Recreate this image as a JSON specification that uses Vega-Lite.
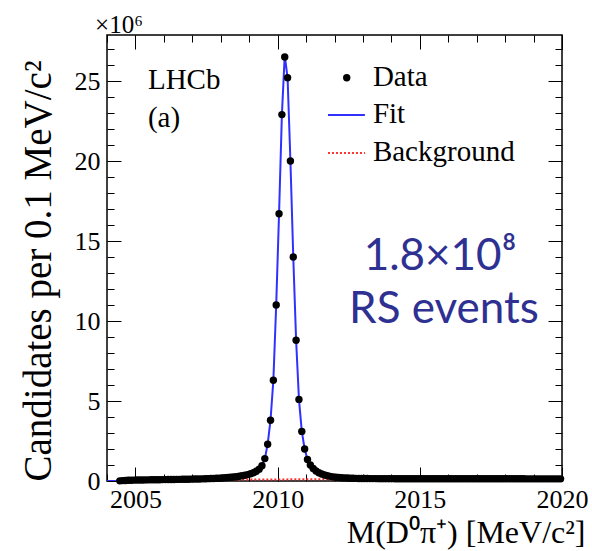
{
  "$schema": "https://vega.github.io/schema/vega-lite/v6.json",
  "width": 455,
  "height": 446,
  "autosize": {"type": "none"},
  "padding": {"left": 107, "top": 35, "right": 30, "bottom": 70},
  "background": "white",
  "config": {
    "view": {"stroke": "black", "strokeWidth": 1.5},
    "font": "Liberation Serif",
    "axis": {"grid": false, "domain": false, "tickColor": "black", "tickWidth": 1, "labelColor": "black", "titleColor": "black", "labelFont": "Liberation Serif", "titleFont": "Liberation Serif", "titleFontWeight": "normal"}
  },
  "datasets": {
    "hist": [
      {"m": 2004.0, "f": 0},
      {"m": 2004.35, "f": 0},
      {"m": 2004.45, "n": 0.01, "f": 0.01},
      {"m": 2004.55, "n": 0.025, "f": 0.025},
      {"m": 2004.65, "n": 0.035, "f": 0.035},
      {"m": 2004.75, "n": 0.045, "f": 0.045},
      {"m": 2004.85, "n": 0.05, "f": 0.05},
      {"m": 2004.95, "n": 0.055, "f": 0.055},
      {"m": 2005.05, "n": 0.06, "f": 0.06},
      {"m": 2005.15, "n": 0.063, "f": 0.063},
      {"m": 2005.25, "n": 0.066, "f": 0.066},
      {"m": 2005.35, "n": 0.069, "f": 0.069},
      {"m": 2005.45, "n": 0.072, "f": 0.072},
      {"m": 2005.55, "n": 0.075, "f": 0.075},
      {"m": 2005.65, "n": 0.078, "f": 0.078},
      {"m": 2005.75, "n": 0.08, "f": 0.08},
      {"m": 2005.85, "n": 0.083, "f": 0.083},
      {"m": 2005.95, "n": 0.086, "f": 0.086},
      {"m": 2006.05, "n": 0.088, "f": 0.088},
      {"m": 2006.15, "n": 0.091, "f": 0.091},
      {"m": 2006.25, "n": 0.094, "f": 0.094},
      {"m": 2006.35, "n": 0.097, "f": 0.097},
      {"m": 2006.45, "n": 0.1, "f": 0.1},
      {"m": 2006.55, "n": 0.103, "f": 0.103},
      {"m": 2006.65, "n": 0.106, "f": 0.106},
      {"m": 2006.75, "n": 0.11, "f": 0.11},
      {"m": 2006.85, "n": 0.113, "f": 0.113},
      {"m": 2006.95, "n": 0.117, "f": 0.117},
      {"m": 2007.05, "n": 0.121, "f": 0.121},
      {"m": 2007.15, "n": 0.125, "f": 0.125},
      {"m": 2007.25, "n": 0.13, "f": 0.13},
      {"m": 2007.35, "n": 0.135, "f": 0.135},
      {"m": 2007.45, "n": 0.14, "f": 0.14},
      {"m": 2007.55, "n": 0.146, "f": 0.146},
      {"m": 2007.65, "n": 0.152, "f": 0.152},
      {"m": 2007.75, "n": 0.16, "f": 0.16},
      {"m": 2007.85, "n": 0.168, "f": 0.168},
      {"m": 2007.95, "n": 0.177, "f": 0.177},
      {"m": 2008.05, "n": 0.187, "f": 0.187},
      {"m": 2008.15, "n": 0.2, "f": 0.2},
      {"m": 2008.25, "n": 0.215, "f": 0.215},
      {"m": 2008.35, "n": 0.232, "f": 0.232},
      {"m": 2008.45, "n": 0.25, "f": 0.25},
      {"m": 2008.55, "n": 0.27, "f": 0.27},
      {"m": 2008.65, "n": 0.295, "f": 0.295},
      {"m": 2008.75, "n": 0.325, "f": 0.325},
      {"m": 2008.85, "n": 0.36, "f": 0.36},
      {"m": 2008.95, "n": 0.4, "f": 0.4},
      {"m": 2009.05, "n": 0.45, "f": 0.45},
      {"m": 2009.15, "n": 0.52, "f": 0.52},
      {"m": 2009.25, "n": 0.61, "f": 0.61},
      {"m": 2009.35, "n": 0.74, "f": 0.74},
      {"m": 2009.45, "n": 0.95, "f": 0.95},
      {"m": 2009.55, "n": 1.4, "f": 1.4},
      {"m": 2009.65, "n": 2.3, "f": 2.3},
      {"m": 2009.75, "n": 3.8, "f": 3.8},
      {"m": 2009.85, "n": 6.3, "f": 6.3},
      {"m": 2009.95, "n": 11.0, "f": 11.0},
      {"m": 2010.05, "n": 16.7, "f": 16.7},
      {"m": 2010.15, "n": 22.9, "f": 22.9},
      {"m": 2010.25, "n": 26.5, "f": 26.6},
      {"m": 2010.35, "n": 25.2, "f": 25.2},
      {"m": 2010.45, "n": 20.0, "f": 20.0},
      {"m": 2010.55, "n": 14.0, "f": 14.0},
      {"m": 2010.65, "n": 8.8, "f": 8.8},
      {"m": 2010.75, "n": 5.1, "f": 5.1},
      {"m": 2010.85, "n": 3.1, "f": 3.1},
      {"m": 2010.95, "n": 2.0, "f": 2.0},
      {"m": 2011.05, "n": 1.35, "f": 1.35},
      {"m": 2011.15, "n": 1.0, "f": 1.0},
      {"m": 2011.25, "n": 0.78, "f": 0.78},
      {"m": 2011.35, "n": 0.63, "f": 0.63},
      {"m": 2011.45, "n": 0.52, "f": 0.52},
      {"m": 2011.55, "n": 0.44, "f": 0.44},
      {"m": 2011.65, "n": 0.38, "f": 0.38},
      {"m": 2011.75, "n": 0.33, "f": 0.33},
      {"m": 2011.85, "n": 0.29, "f": 0.29},
      {"m": 2011.95, "n": 0.26, "f": 0.26},
      {"m": 2012.05, "n": 0.24, "f": 0.24},
      {"m": 2012.15, "n": 0.22, "f": 0.22},
      {"m": 2012.25, "n": 0.205, "f": 0.205},
      {"m": 2012.35, "n": 0.195, "f": 0.195},
      {"m": 2012.45, "n": 0.185, "f": 0.185},
      {"m": 2012.55, "n": 0.177, "f": 0.177},
      {"m": 2012.65, "n": 0.17, "f": 0.17},
      {"m": 2012.75, "n": 0.165, "f": 0.165},
      {"m": 2012.85, "n": 0.16, "f": 0.16},
      {"m": 2012.95, "n": 0.156, "f": 0.156},
      {"m": 2013.05, "n": 0.153, "f": 0.153},
      {"m": 2013.15, "n": 0.152, "f": 0.152},
      {"m": 2013.25, "n": 0.151, "f": 0.151},
      {"m": 2013.35, "n": 0.15, "f": 0.15},
      {"m": 2013.45, "n": 0.149, "f": 0.149},
      {"m": 2013.55, "n": 0.148, "f": 0.148},
      {"m": 2013.65, "n": 0.148, "f": 0.148},
      {"m": 2013.75, "n": 0.147, "f": 0.147},
      {"m": 2013.85, "n": 0.147, "f": 0.147},
      {"m": 2013.95, "n": 0.146, "f": 0.146},
      {"m": 2014.05, "n": 0.146, "f": 0.146},
      {"m": 2014.15, "n": 0.145, "f": 0.145},
      {"m": 2014.25, "n": 0.145, "f": 0.145},
      {"m": 2014.35, "n": 0.145, "f": 0.145},
      {"m": 2014.45, "n": 0.144, "f": 0.144},
      {"m": 2014.55, "n": 0.144, "f": 0.144},
      {"m": 2014.65, "n": 0.144, "f": 0.144},
      {"m": 2014.75, "n": 0.143, "f": 0.143},
      {"m": 2014.85, "n": 0.143, "f": 0.143},
      {"m": 2014.95, "n": 0.143, "f": 0.143},
      {"m": 2015.05, "n": 0.142, "f": 0.142},
      {"m": 2015.15, "n": 0.142, "f": 0.142},
      {"m": 2015.25, "n": 0.142, "f": 0.142},
      {"m": 2015.35, "n": 0.142, "f": 0.142},
      {"m": 2015.45, "n": 0.141, "f": 0.141},
      {"m": 2015.55, "n": 0.141, "f": 0.141},
      {"m": 2015.65, "n": 0.141, "f": 0.141},
      {"m": 2015.75, "n": 0.141, "f": 0.141},
      {"m": 2015.85, "n": 0.14, "f": 0.14},
      {"m": 2015.95, "n": 0.14, "f": 0.14},
      {"m": 2016.05, "n": 0.14, "f": 0.14},
      {"m": 2016.15, "n": 0.14, "f": 0.14},
      {"m": 2016.25, "n": 0.14, "f": 0.14},
      {"m": 2016.35, "n": 0.139, "f": 0.139},
      {"m": 2016.45, "n": 0.139, "f": 0.139},
      {"m": 2016.55, "n": 0.139, "f": 0.139},
      {"m": 2016.65, "n": 0.139, "f": 0.139},
      {"m": 2016.75, "n": 0.139, "f": 0.139},
      {"m": 2016.85, "n": 0.138, "f": 0.138},
      {"m": 2016.95, "n": 0.138, "f": 0.138},
      {"m": 2017.05, "n": 0.138, "f": 0.138},
      {"m": 2017.15, "n": 0.138, "f": 0.138},
      {"m": 2017.25, "n": 0.138, "f": 0.138},
      {"m": 2017.35, "n": 0.138, "f": 0.138},
      {"m": 2017.45, "n": 0.137, "f": 0.137},
      {"m": 2017.55, "n": 0.137, "f": 0.137},
      {"m": 2017.65, "n": 0.137, "f": 0.137},
      {"m": 2017.75, "n": 0.137, "f": 0.137},
      {"m": 2017.85, "n": 0.137, "f": 0.137},
      {"m": 2017.95, "n": 0.137, "f": 0.137},
      {"m": 2018.05, "n": 0.136, "f": 0.136},
      {"m": 2018.15, "n": 0.136, "f": 0.136},
      {"m": 2018.25, "n": 0.136, "f": 0.136},
      {"m": 2018.35, "n": 0.136, "f": 0.136},
      {"m": 2018.45, "n": 0.136, "f": 0.136},
      {"m": 2018.55, "n": 0.136, "f": 0.136},
      {"m": 2018.65, "n": 0.136, "f": 0.136},
      {"m": 2018.75, "n": 0.135, "f": 0.135},
      {"m": 2018.85, "n": 0.135, "f": 0.135},
      {"m": 2018.95, "n": 0.135, "f": 0.135},
      {"m": 2019.05, "n": 0.135, "f": 0.135},
      {"m": 2019.15, "n": 0.135, "f": 0.135},
      {"m": 2019.25, "n": 0.135, "f": 0.135},
      {"m": 2019.35, "n": 0.135, "f": 0.135},
      {"m": 2019.45, "n": 0.135, "f": 0.135},
      {"m": 2019.55, "n": 0.134, "f": 0.134},
      {"m": 2019.65, "n": 0.134, "f": 0.134},
      {"m": 2019.75, "n": 0.134, "f": 0.134},
      {"m": 2019.85, "n": 0.134, "f": 0.134},
      {"m": 2019.95, "n": 0.134, "f": 0.134},
      {"m": 2020.0, "f": 0.134}
    ],
    "bkg": [
      {"m": 2004.4, "b": 0},
      {"m": 2004.5, "b": 0.025},
      {"m": 2004.7, "b": 0.04},
      {"m": 2005.0, "b": 0.05},
      {"m": 2005.5, "b": 0.06},
      {"m": 2006.0, "b": 0.068},
      {"m": 2007.0, "b": 0.08},
      {"m": 2008.0, "b": 0.088},
      {"m": 2009.0, "b": 0.095},
      {"m": 2010.0, "b": 0.1},
      {"m": 2011.0, "b": 0.105},
      {"m": 2012.0, "b": 0.11},
      {"m": 2014.0, "b": 0.117},
      {"m": 2016.0, "b": 0.123},
      {"m": 2018.0, "b": 0.128},
      {"m": 2020.0, "b": 0.132}
    ],
    "labels": [
      {"m": 2005.44, "v": 25.06, "t": "LHCb"},
      {"m": 2005.44, "v": 22.7, "t": "(a)"},
      {"m": 2013.35, "v": 25.25, "t": "Data"},
      {"m": 2013.35, "v": 22.95, "t": "Fit"},
      {"m": 2013.35, "v": 20.55, "t": "Background"}
    ],
    "legpt": [{"m": 2012.43, "v": 25.2}],
    "legfit": [{"m": 2011.77, "m2": 2013.07, "v": 22.875}],
    "legbkg": [{"m": 2011.77, "m2": 2013.07, "v": 20.5}],
    "scale": [{"m": 2003.58, "v": 27.875, "t": "×10⁶"}],
    "note": [
      {"m": 2015.71, "v": 14.0, "t": "1.8×10⁸"},
      {"m": 2015.85, "v": 10.7, "t": "RS events"}
    ]
  },
  "resolve": {"axis": {"x": "independent", "y": "independent"}},
  "layer": [
    {
      "data": {"name": "bkg"},
      "mark": {"type": "line", "color": "#ff3030", "strokeWidth": 2, "strokeDash": [2, 2], "clip": true},
      "encoding": {
        "x": {"field": "m", "type": "quantitative", "scale": {"domain": [2004, 2020], "nice": false, "zero": false},
          "axis": {"orient": "top", "values": [2005, 2010, 2015, 2020], "tickSize": -14, "labels": false, "title": null}},
        "y": {"field": "b", "type": "quantitative", "scale": {"domain": [0, 27.875], "nice": false},
          "axis": {"orient": "right", "values": [0, 5, 10, 15, 20, 25], "tickSize": -14, "labels": false, "title": null}}
      }
    },
    {
      "data": {"name": "hist"},
      "mark": {"type": "line", "color": "#3030ff", "strokeWidth": 2, "clip": true},
      "encoding": {
        "x": {"field": "m", "type": "quantitative",
          "axis": {"orient": "top", "values": [2004,2005,2006,2007,2008,2009,2010,2011,2012,2013,2014,2015,2016,2017,2018,2019,2020], "tickSize": -7, "labels": false, "title": null}},
        "y": {"field": "f", "type": "quantitative",
          "axis": {"orient": "right", "values": [0,1,2,3,4,5,6,7,8,9,10,11,12,13,14,15,16,17,18,19,20,21,22,23,24,25,26,27], "tickSize": -7, "labels": false, "title": null}}
      }
    },
    {
      "data": {"name": "hist"},
      "mark": {"type": "circle", "color": "black", "opacity": 1, "size": 55},
      "encoding": {
        "x": {"field": "m", "type": "quantitative",
          "axis": {"orient": "bottom", "values": [2005, 2010, 2015, 2020], "format": "d", "tickSize": -14, "labelFontSize": 26, "labelPadding": 19, "labelFlush": false, "labelFont": "Liberation Serif",
            "title": "M(D⁰π⁺) [MeV/c²]", "titleFont": "Liberation Serif", "titleFontSize": 32, "titleAlign": "right", "titleAnchor": "end", "titleX": 478, "titleY": 61, "titleBaseline": "alphabetic"}},
        "y": {"field": "n", "type": "quantitative",
          "axis": {"orient": "left", "values": [0, 5, 10, 15, 20, 25], "format": "d", "tickSize": -14, "labelFontSize": 26, "labelPadding": 21, "labelFlush": false, "labelFont": "Liberation Serif",
            "title": "Candidates per 0.1 MeV/c²", "titleFont": "Liberation Serif", "titleFontSize": 39, "titleAngle": -90, "titleAlign": "left", "titleAnchor": "start", "titleX": -69, "titleY": 446, "titleBaseline": "middle"}}
      }
    },
    {
      "data": {"name": "hist"},
      "mark": {"type": "point", "opacity": 0, "size": 1},
      "encoding": {
        "x": {"field": "m", "type": "quantitative",
          "axis": {"orient": "bottom", "values": [2004,2005,2006,2007,2008,2009,2010,2011,2012,2013,2014,2015,2016,2017,2018,2019,2020], "tickSize": -7, "labels": false, "title": null}},
        "y": {"field": "f", "type": "quantitative",
          "axis": {"orient": "left", "values": [0,1,2,3,4,5,6,7,8,9,10,11,12,13,14,15,16,17,18,19,20,21,22,23,24,25,26,27], "tickSize": -7, "labels": false, "title": null}}
      }
    },
    {
      "data": {"name": "labels"},
      "mark": {"type": "text", "align": "left", "baseline": "middle", "fontSize": 29, "font": "Liberation Serif", "color": "black"},
      "encoding": {
        "x": {"field": "m", "type": "quantitative", "axis": null},
        "y": {"field": "v", "type": "quantitative", "axis": null},
        "text": {"field": "t"}
      }
    },
    {
      "data": {"name": "legpt"},
      "mark": {"type": "circle", "color": "black", "opacity": 1, "size": 55},
      "encoding": {
        "x": {"field": "m", "type": "quantitative", "axis": null},
        "y": {"field": "v", "type": "quantitative", "axis": null}
      }
    },
    {
      "data": {"name": "legfit"},
      "mark": {"type": "rule", "color": "#3030ff", "strokeWidth": 2},
      "encoding": {
        "x": {"field": "m", "type": "quantitative", "axis": null},
        "x2": {"field": "m2"},
        "y": {"field": "v", "type": "quantitative", "axis": null}
      }
    },
    {
      "data": {"name": "legbkg"},
      "mark": {"type": "rule", "color": "#ff3030", "strokeWidth": 2, "strokeDash": [2, 2]},
      "encoding": {
        "x": {"field": "m", "type": "quantitative", "axis": null},
        "x2": {"field": "m2"},
        "y": {"field": "v", "type": "quantitative", "axis": null}
      }
    },
    {
      "data": {"name": "scale"},
      "mark": {"type": "text", "align": "left", "baseline": "alphabetic", "dy": -2, "fontSize": 25, "font": "Liberation Serif", "color": "black"},
      "encoding": {
        "x": {"field": "m", "type": "quantitative", "axis": null},
        "y": {"field": "v", "type": "quantitative", "axis": null},
        "text": {"field": "t"}
      }
    },
    {
      "data": {"name": "note"},
      "mark": {"type": "text", "align": "center", "baseline": "middle", "fontSize": 44, "font": "Lato", "color": "#2E3192"},
      "encoding": {
        "x": {"field": "m", "type": "quantitative", "axis": null},
        "y": {"field": "v", "type": "quantitative", "axis": null},
        "text": {"field": "t"}
      }
    }
  ]
}
